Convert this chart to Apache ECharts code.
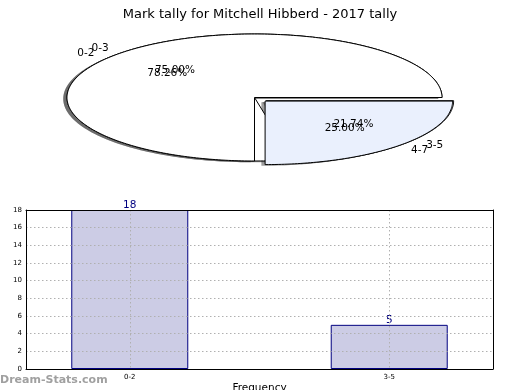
<!DOCTYPE html>
<html>
<head>
<meta charset="utf-8">
<script src="https://cdn.jsdelivr.net/npm/echarts@6/dist/echarts.min.js"></script>
<style>html,body{margin:0;padding:0;background:#fff}#c{width:520px;height:390px}</style>
</head>
<body>
<div id="c"></div>
<script>
// ---- data ----
const titleText = 'Mark tally for Mitchell Hibberd - 2017 tally';
const pieALabels = ['0-2', '3-5'];
const pieAValues = [18, 5];
const pieBLabels = ['0-3', '4-7'];
const pieBValues = [75, 25];
const barCategories = ['0-2', '3-5'];
const barValues = [18, 5];
const yAxisName = 'Stat Intervals';
const xAxisName = 'Frequency';
const watermark = 'Dream-Stats.com';

// ---- layout / style ----
const FONT = '"DejaVu Sans", Verdana, sans-serif';
const CX = 254.5, CY = 97.5, RX = 187.5, RY = 63.5;
const EXPLODE = [0, 0.08];
const SLICE_COLORS = ['#ffffff', '#eaf0fd'];
const SHADOW = 0.02;

const pies = [
  { values: pieAValues, labels: pieALabels },
  { values: pieBValues, labels: pieBLabels }
];
const slices = [];
pies.forEach((pie, p) => pie.values.forEach((v, i) => slices.push([p, i, v])));

function wedgePoints(a1, a2, cx, cy) {
  const pts = [[cx, cy]];
  const n = Math.max(8, Math.ceil((a2 - a1) / 1));
  for (let k = 0; k <= n; k++) {
    const t = (a1 + (a2 - a1) * k / n) * Math.PI / 180;
    pts.push([cx + RX * Math.cos(t), cy - RY * Math.sin(t)]);
  }
  return pts;
}

function renderPie(params, api) {
  const p = api.value(0), i = api.value(1), v = api.value(2);
  const vals = pies[p].values;
  const total = vals.reduce((a, b) => a + b, 0);
  let before = 0;
  for (let k = 0; k < i; k++) before += vals[k];
  const a1 = before / total * 360;
  const a2 = a1 + v / total * 360;
  const mid = (a1 + a2) / 2 * Math.PI / 180;
  const ex = EXPLODE[i];
  const cx = CX + ex * RX * Math.cos(mid);
  const cy = CY - ex * RY * Math.sin(mid);
  const pts = wedgePoints(a1, a2, cx, cy);
  const sx = -SHADOW * RX, sy = SHADOW * RY;
  const shadowPts = pts.map(q => [q[0] + sx, q[1] + sy]);
  const order = p * 2 + i;
  const pct = (v / total * 100).toFixed(2) + '%';
  const cosm = Math.cos(mid), sinm = Math.sin(mid);
  return {
    type: 'group',
    children: [
      { type: 'polygon', z2: order, shape: { points: shadowPts },
        style: { fill: 'rgba(60,60,60,0.5)', stroke: null } },
      { type: 'polygon', z2: 10 + order, shape: { points: pts },
        style: { fill: SLICE_COLORS[i], stroke: '#000', lineWidth: 1 } },
      { type: 'text', z2: 100,
        style: { text: pct, x: cx + 0.6 * RX * cosm, y: cy - 0.6 * RY * sinm,
          align: 'center', verticalAlign: 'middle', fill: '#000', font: '10.5px ' + FONT } },
      { type: 'text', z2: 100,
        style: { text: pies[p].labels[i], x: cx + 1.1 * RX * cosm, y: cy - 1.1 * RY * sinm,
          align: cosm > 0 ? 'left' : 'right', verticalAlign: 'middle', fill: '#000', font: '10.5px ' + FONT } }
    ]
  };
}

const frameAxis = {
  axisLine: { show: true, onZero: false, lineStyle: { color: '#000', width: 1 } },
  axisTick: { show: false }, axisLabel: { show: false }, splitLine: { show: false }, z: 3
};

const chart = echarts.init(document.getElementById('c'), null, { renderer: 'canvas' });
chart.setOption({
  animation: false,
  backgroundColor: '#fff',
  textStyle: { fontFamily: FONT },
  title: {
    text: titleText, left: 'center', top: 3,
    textStyle: { fontSize: 13, fontWeight: 'normal', color: '#000', fontFamily: FONT }
  },
  grid: { left: 26, top: 210, width: 467, height: 159, show: false,
    containLabel: false, outerBoundsMode: 'none' },
  xAxis: [{
    type: 'value', min: -0.4, max: 1.4, z: 3,
    axisLine: { show: true, onZero: false, lineStyle: { color: '#000', width: 1 } },
    axisTick: { show: false, customValues: [0, 1] },
    axisLabel: { customValues: [0, 1], formatter: v => barCategories[Math.round(v)], fontSize: 7, color: '#000', margin: 5, fontFamily: FONT },
    splitLine: { show: true, lineStyle: { type: [1.5, 2.5], color: '#b0b0b0', width: 1 } },
    name: xAxisName, nameLocation: 'middle', nameGap: 14,
    nameTextStyle: { fontSize: 10.5, color: '#000', fontFamily: FONT }
  }, Object.assign({ type: 'value', min: -0.4, max: 1.4, position: 'top' }, frameAxis)],
  yAxis: [{
    type: 'value', min: 0, max: 18, interval: 2, z: 3,
    axisLine: { show: true, onZero: false, lineStyle: { color: '#000', width: 1 } },
    axisTick: { show: false },
    axisLabel: { fontSize: 7, color: '#000', margin: 4, fontFamily: FONT },
    splitLine: { show: true, lineStyle: { type: [1.5, 2.5], color: '#b0b0b0', width: 1 } },
    name: yAxisName, nameLocation: 'middle', nameGap: 15, nameRotate: 90,
    nameTextStyle: { fontSize: 10.5, color: '#000', fontFamily: FONT }
  }, Object.assign({ type: 'value', min: 0, max: 18, position: 'right' }, frameAxis)],
  graphic: [
    { type: 'text', left: 0, top: 375, z: 10,
      style: { text: watermark, fill: '#a0a0a0', font: 'bold 11px ' + FONT } }
  ],
  series: [
    {
      type: 'bar', z: 2,
      data: barCategories.map((c, k) => [k, barValues[k]]),
      barWidth: 117,
      itemStyle: { color: '#ccccE5', borderColor: '#000080', borderWidth: 1 },
      label: { show: true, position: 'top', distance: -1, color: '#000080', fontSize: 10.5, fontFamily: FONT }
    },
    {
      type: 'custom', coordinateSystem: 'none', z: 5, silent: true,
      data: slices,
      renderItem: renderPie
    }
  ]
});
</script>
</body>
</html>
